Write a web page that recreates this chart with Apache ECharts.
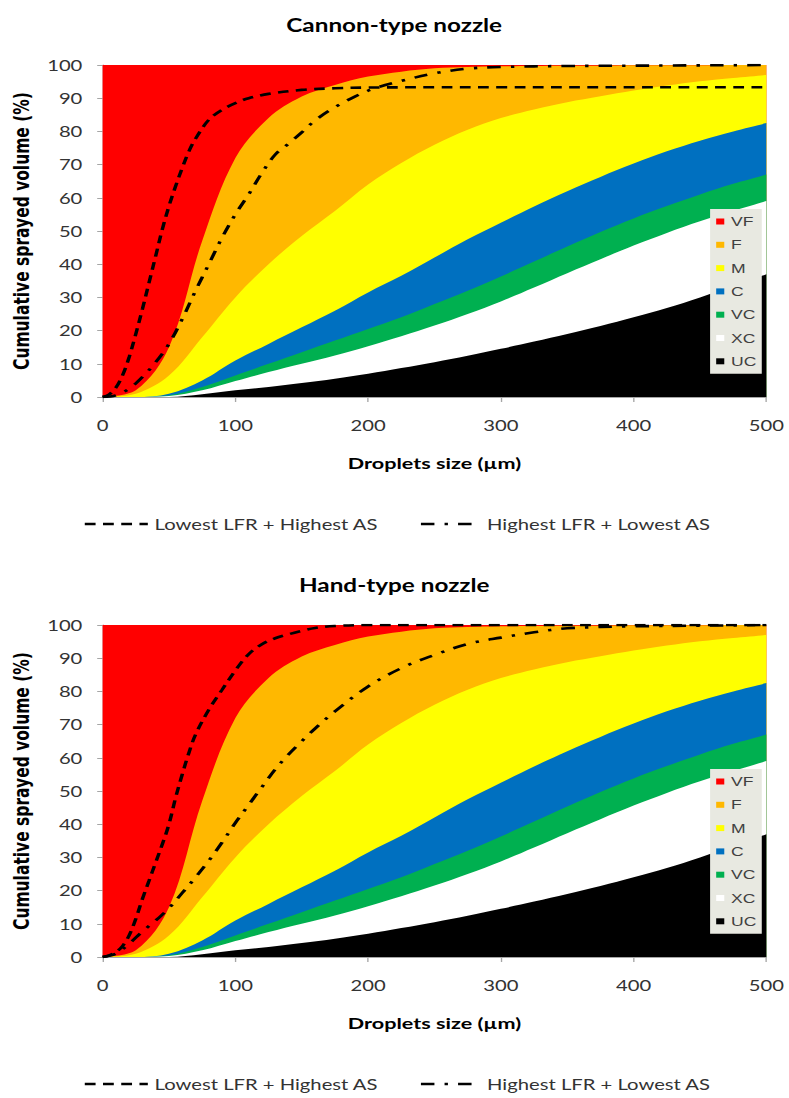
<!DOCTYPE html>
<html>
<head>
<meta charset="utf-8">
<script src="https://cdn.jsdelivr.net/npm/echarts@6/dist/echarts.min.js"></script>
<style>
html, body { margin: 0; padding: 0; background: #ffffff; overflow: hidden; }
#chart { width: 584.44px; height: 1098px; transform: scaleX(1.35); transform-origin: 0 0; }
</style>
</head>
<body>
<div id="chart"></div>
<script>
// ---- Data ----
const classNames = ['VF', 'F', 'M', 'C', 'VC', 'XC', 'UC'];
const panelTitles = ['Cannon-type nozzle', 'Hand-type nozzle'];
const lineNames = ['Lowest LFR + Highest AS', 'Highest LFR + Lowest AS'];
const xTicks = [0, 100, 200, 300, 400, 500];
const yTicks = [0, 10, 20, 30, 40, 50, 60, 70, 80, 90, 100];

// Upper boundary of each droplet-size class (cumulative volume %)
const vfX   = [0, 500];
const vfTop = [100, 100];
const classX = [0, 25, 50, 75, 100, 125, 150, 175, 200, 225, 250, 275, 300, 325, 350, 375, 400, 425, 450, 475, 500];
const fTop  = [0, 2, 15, 47, 72, 84, 90.5, 94, 96.5, 98, 99, 99.4, 99.6, 99.7, 99.8, 99.8, 99.9, 99.9, 99.9, 100, 100];
const mTop  = [0, 1, 6.5, 18, 30, 40, 48.5, 56, 64, 70.5, 76, 80.5, 84, 86.6, 88.8, 90.6, 92.3, 93.8, 95.1, 96.1, 97];
const cTop  = [0, 0, 1, 5, 11, 16, 21, 26, 31.5, 36.5, 42, 47.5, 52.5, 57.4, 62, 66.3, 70.3, 74, 77.2, 80, 82.5];
const vcTop = [0, 0, 0.5, 3, 6.5, 10, 13.5, 17, 20.5, 24, 28, 32, 36.3, 40.8, 45.3, 49.7, 53.8, 57.5, 61, 64.2, 67];
const xcTop = [0, 0, 0.3, 2, 4.8, 7.5, 10, 12.5, 15.3, 18.3, 21.5, 25, 28.8, 33, 37.3, 41.5, 45.6, 49.4, 52.9, 56, 59];
const ucTop = [0, 0, 0, 0.8, 2, 3, 4.2, 5.5, 7, 8.7, 10.5, 12.4, 14.5, 16.7, 19, 21.4, 24, 26.8, 30, 33.4, 37];

// Cannon-type nozzle curves
const cannonLowX  = [0, 5, 10, 15, 20, 25, 30, 35, 40, 45, 50, 55, 60, 65, 70, 80, 90, 100, 110, 125, 150, 175, 200, 250, 300, 400, 500];
const cannonLowY  = [0, 0.8, 2.8, 6.5, 12, 19, 26.5, 34.5, 42.5, 50.5, 57.5, 63.5, 69, 74, 77.8, 83.5, 86.5, 88.5, 90, 91.3, 92.5, 93, 93.2, 93.3, 93.3, 93.3, 93.3];
const cannonHighX = [0, 10, 20, 30, 40, 50, 60, 70, 80, 90, 100, 110, 120, 130, 140, 150, 160, 175, 190, 205, 225, 250, 275, 300, 350, 400, 500];
const cannonHighY = [0, 0.5, 2.5, 6, 10.5, 16, 23.5, 32, 40, 48, 55, 61, 67.5, 73, 76.3, 79.7, 83.3, 87.3, 90.5, 93, 95.2, 97.5, 98.9, 99.4, 99.7, 99.8, 100];

// Hand-type nozzle curves
const handLowX  = [0, 5, 10, 15, 20, 25, 30, 35, 40, 45, 50, 55, 60, 65, 70, 80, 90, 100, 110, 120, 130, 140, 150, 160, 175, 200, 300, 400, 500];
const handLowY  = [0, 0.5, 1.5, 3.3, 6.5, 11.5, 17.5, 23, 28.5, 34, 40, 48, 55, 61.5, 67, 74.5, 80.5, 86.3, 91.2, 94.2, 96, 97.2, 98.2, 99.1, 99.7, 100, 100, 100, 100];
const handHighX = [0, 10, 20, 30, 40, 50, 60, 70, 80, 90, 100, 110, 120, 130, 140, 150, 160, 175, 200, 225, 250, 275, 300, 325, 350, 400, 450, 500];
const handHighY = [0, 1, 4, 7.7, 11, 14.7, 19.3, 24, 29, 34.5, 40.4, 45.8, 51.2, 56.5, 61, 65, 68.8, 74, 81.5, 87, 91, 94.3, 96.2, 97.8, 99, 99.6, 99.8, 100];

// ---- Styles / layout ----
const classColors = ['#FF0000', '#FFB800', '#FFFF00', '#0070C0', '#00B050', '#FFFFFF', '#000000'];
const classSeriesData = [[vfX, vfTop], [classX, fTop], [classX, mTop], [classX, cTop], [classX, vcTop], [classX, xcTop], [classX, ucTop]];
const panelLines = [
  [[cannonLowX, cannonLowY], [cannonHighX, cannonHighY]],
  [[handLowX, handLowY], [handHighX, handHighY]]
];
const gridTops = [65, 625];
const gridH = 332;
const titleTops = [11, 571];
const dashA = [8, 5.5];
const dashB = [10, 7.5, 2.5, 7.5];
const lineDashes = [dashA, dashB];

function pairs(xs, ys) { return xs.map((x, i) => [x, ys[i]]); }

const option = {
  animation: false,
  title: [], grid: [], xAxis: [], yAxis: [], legend: [], series: []
};

panelTitles.forEach((t, p) => {
  option.title.push({
    text: t, left: 'center', top: titleTops[p],
    textStyle: { fontFamily: 'Lato', fontWeight: 'bold', fontSize: 18, color: '#000' }
  });
  option.grid.push({ left: 72.6, right: 16.3, top: gridTops[p], height: gridH });
  option.xAxis.push({
    gridIndex: p, type: 'value', min: 0, max: 500, interval: 100,
    axisLine: { show: true, lineStyle: { color: '#A6A6A6', width: 1 } },
    axisTick: { show: true, length: 5, lineStyle: { color: '#A6A6A6' } },
    axisLabel: { color: '#333333', fontFamily: 'Lato', fontSize: 15, margin: 21,
      formatter: v => (xTicks.includes(v) ? String(v) : '') },
    splitLine: { show: false },
    name: 'Droplets size (µm)', nameLocation: 'middle', nameGap: 58,
    nameTextStyle: { fontFamily: 'Lato', fontWeight: 'bold', fontSize: 16, color: '#000' }
  });
  option.yAxis.push({
    gridIndex: p, type: 'value', min: 0, max: 100, interval: 10,
    axisLine: { show: true, lineStyle: { color: '#A6A6A6', width: 1 } },
    axisTick: { show: true, length: 4, lineStyle: { color: '#A6A6A6' } },
    axisLabel: { color: '#333333', fontFamily: 'Lato', fontSize: 15, margin: 15,
      formatter: v => (yTicks.includes(v) ? String(v) : '') },
    splitLine: { show: false },
    name: 'Cumulative sprayed volume (%)', nameLocation: 'middle', nameGap: 46, nameRotate: 90,
    nameTextStyle: { fontFamily: 'DejaVu Sans', fontWeight: 'bold', fontSize: 15.5, color: '#000' }
  });

  classNames.forEach((n, k) => {
    const d = classSeriesData[k];
    option.series.push({
      type: 'line', name: n, xAxisIndex: p, yAxisIndex: p,
      data: pairs(d[0], d[1]), smooth: 0.35,
      symbol: 'none', silent: true, color: classColors[k],
      lineStyle: { width: 0, color: classColors[k] },
      areaStyle: { color: classColors[k], opacity: 1 },
      z: 2
    });
  });
  lineNames.forEach((n, k) => {
    const d = panelLines[p][k];
    option.series.push({
      type: 'line', name: n, xAxisIndex: p, yAxisIndex: p,
      data: pairs(d[0], d[1]), smooth: 0.35,
      symbol: 'none', silent: true, color: '#000',
      lineStyle: { color: '#000', width: 2.6, type: lineDashes[k], cap: 'butt' },
      z: 3
    });
  });

  option.legend.push({
    data: classNames, orient: 'vertical', left: 526, top: gridTops[p] + 144,
    icon: 'rect', itemWidth: 6, itemHeight: 6, itemGap: 9.3,
    backgroundColor: '#E8E9E1', padding: [5.5, 4, 5.5, 4.5],
    selectedMode: false,
    textStyle: { fontFamily: 'Liberation Sans', fontSize: 13, lineHeight: 14, color: '#404040' }
  });
  const legTop = gridTops[p] + 446;
  option.legend.push({
    data: [lineNames[0]], left: 56.5, top: legTop, itemWidth: 46.7, itemHeight: 14,
    selectedMode: false, itemStyle: { opacity: 0 },
    lineStyle: { color: '#000', width: 2.6, type: dashA, cap: 'butt' },
    textStyle: { fontFamily: 'Lato', fontSize: 15, lineHeight: 16, color: '#333333' }
  });
  option.legend.push({
    data: [lineNames[1]], left: 305.5, top: legTop, itemWidth: 39, itemHeight: 14,
    selectedMode: false, itemStyle: { opacity: 0 },
    lineStyle: { color: '#000', width: 2.6, type: dashB, cap: 'butt' },
    textStyle: { fontFamily: 'Lato', fontSize: 15, lineHeight: 16, color: '#333333', padding: [0, 0, 0, 5] }
  });
});

const chart = echarts.init(document.getElementById('chart'), null, { renderer: 'svg' });
chart.setOption(option);
</script>
</body>
</html>
